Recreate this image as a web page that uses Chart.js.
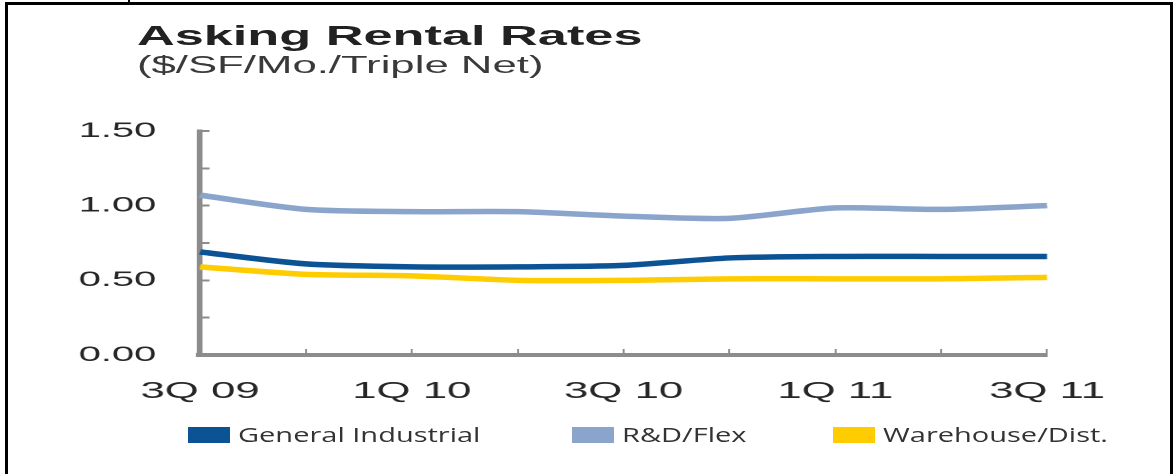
<!DOCTYPE html>
<html>
<head>
<meta charset="utf-8">
<title>Asking Rental Rates</title>
<script src="https://cdn.jsdelivr.net/npm/chart.js@4.4.1/dist/chart.umd.min.js"></script>
<style>
  html, body { margin: 0; padding: 0; background: #fff; }
  body { width: 1175px; height: 474px; position: relative; overflow: hidden; }
  #frame { position: absolute; left: 5px; top: 2px; width: 1162px; height: 520px; border: 3px solid #000; border-bottom: none; }
  #notch { position: absolute; left: 128px; top: 0; width: 2px; height: 3px; background: #000; }
  /* the original picture is stretched wide, so the chart is drawn narrow and scaled */
  #stretch { position: absolute; left: 0; top: 0; width: 618px; height: 474px; transform: scaleX(1.9013); transform-origin: 0 0; }
  #title { position: absolute; left: 72px; top: 22px; font: bold 27.5px/1 "Liberation Sans", Arial, sans-serif; color: #222; white-space: nowrap; }
  #subtitle { position: absolute; left: 72px; top: 54px; font: 23px/1 "Liberation Sans", Arial, sans-serif; color: #3a3a3a; white-space: nowrap; }
  #chartBox { position: absolute; left: 0; top: 0; width: 618px; height: 474px; }
  #legend { position: absolute; left: 188px; top: 425px; display: grid; grid-template-columns: 384px 261px auto; }
  #legend .item { display: flex; align-items: center; height: 20px; }
  #legend .box { width: 42px; height: 16px; margin-right: 8px; flex: none; }
  #legend .text { font: 20px/1 "Open Sans", sans-serif; color: #333; white-space: nowrap; transform: scaleX(1.45); transform-origin: 0 50%; }
</style>
</head>
<body>
<div id="frame"></div>
<div id="notch"></div>
<div id="stretch">
  <div id="title">Asking Rental Rates</div>
  <div id="subtitle">($/SF/Mo./Triple Net)</div>
  <div id="chartBox"><canvas id="rentChart"></canvas></div>
</div>
<div id="legend"></div>
<script>
// quarters on the x axis
const quarters = ['3Q 09', '4Q 09', '1Q 10', '2Q 10', '3Q 10', '4Q 10', '1Q 11', '2Q 11', '3Q 11'];
// only every second quarter gets a label
const xTickLabels = ['3Q 09', '1Q 10', '3Q 10', '1Q 11', '3Q 11'];
const yTickLabels = ['0.00', '0.50', '1.00', '1.50'];

// $/SF/Mo. values
const generalIndustrial = [0.69, 0.61, 0.59, 0.59, 0.60, 0.65, 0.66, 0.66, 0.66];
const rdFlex = [1.07, 0.975, 0.96, 0.96, 0.93, 0.915, 0.985, 0.975, 1.00];
const warehouseDist = [0.59, 0.54, 0.53, 0.50, 0.50, 0.51, 0.51, 0.51, 0.52];

const axisFont = '"Liberation Sans", Arial, sans-serif';
const axisGray = '#8c8c8c';

const ctx = document.getElementById('rentChart').getContext('2d');

const chart = new Chart(ctx, {
    type: 'line',
    data: {
        labels: quarters,
        datasets: [{
            label: 'General Industrial',
            data: generalIndustrial,
            borderColor: '#0b5394',
            backgroundColor: '#0b5394'
        }, {
            label: 'R&D/Flex',
            data: rdFlex,
            borderColor: '#8aa4cc',
            backgroundColor: '#8aa4cc'
        }, {
            label: 'Warehouse/Dist.',
            data: warehouseDist,
            borderColor: '#ffcc00',
            backgroundColor: '#ffcc00'
        }]
    },
    options: {
        responsive: true,
        maintainAspectRatio: false,
        animation: false,
        devicePixelRatio: 2,
        layout: {
            padding: { top: 131, left: 35.2, right: 67.3, bottom: 69 }
        },
        elements: {
            point: { radius: 0 },
            line: { borderWidth: 5.5, tension: 0.25 }
        },
        plugins: {
            tooltip: { enabled: false },
            legend: { display: false }
        },
        scales: {
            x: {
                grid: { drawOnChartArea: false, tickLength: -6, color: axisGray, lineWidth: 1 },
                border: { color: axisGray, width: 4 },
                ticks: {
                    autoSkip: false,
                    maxRotation: 0,
                    padding: 29,
                    color: '#262626',
                    font: { family: axisFont, size: 23 },
                    callback: function(value, index) {
                        const q = quarters[index];
                        return xTickLabels.includes(q) ? q : '';
                    }
                },
                afterFit: function(scale) { scale.height = 50; }
            },
            y: {
                min: 0,
                max: 1.5,
                grid: { drawOnChartArea: false, tickLength: -5, color: axisGray, lineWidth: 2 },
                border: { color: axisGray, width: 3 },
                ticks: {
                    stepSize: 0.25,
                    padding: 28,
                    color: '#262626',
                    font: { family: axisFont, size: 21 },
                    callback: function(value) {
                        const lbl = value.toFixed(2);
                        return yTickLabels.includes(lbl) ? lbl : '';
                    }
                },
                afterFit: function(scale) { scale.width = 70; }
            }
        }
    }
});

// legend built from the chart's datasets
const legendEl = document.getElementById('legend');
chart.data.datasets.forEach(ds => {
    const item = document.createElement('div');
    item.className = 'item';
    item.innerHTML = '<span class="box" style="background:' + ds.backgroundColor + '"></span>' +
        '<span class="text"></span>';
    item.querySelector('.text').textContent = ds.label;
    legendEl.appendChild(item);
});
</script>
</body>
</html>
